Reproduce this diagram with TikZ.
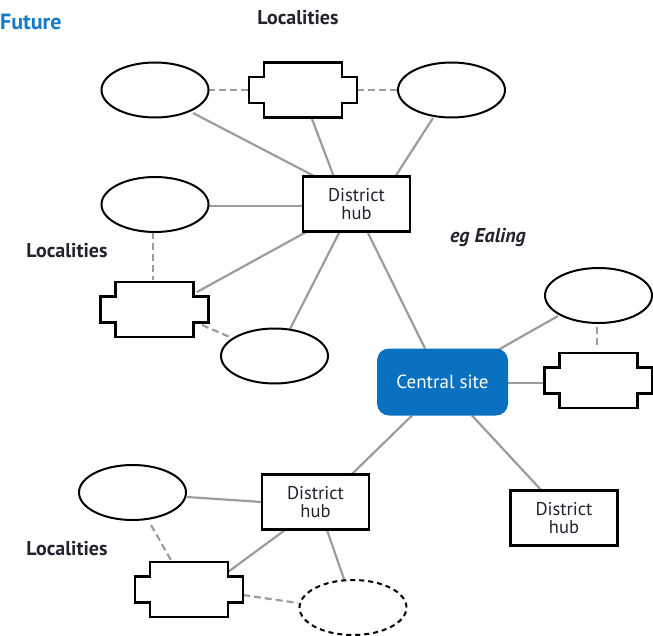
\documentclass[tikz,border=0pt]{standalone}
\usepackage{fontspec}
\setmainfont{PT Sans}
\usetikzlibrary{calc,shapes.geometric,backgrounds}

\definecolor{hubblue}{HTML}{0A70C0}
\definecolor{titleblue}{HTML}{1479C8}
\definecolor{linkgray}{HTML}{9C9C9C}
\definecolor{labeldark}{HTML}{23232E}

\tikzset{
  loc/.style={ellipse, draw=black, line width=2pt, fill=white,
              minimum width=107pt, minimum height=55pt, inner sep=0pt},
  locdash/.style={loc, dash pattern=on 5pt off 4pt},
  notch/.style={rectangle, draw=none, minimum width=108pt, minimum height=55pt, inner sep=0pt},
  notchline/.style={draw=black, line width=2.7pt, fill=white, line join=miter},
  hub/.style={rectangle, draw=black, line width=2.8pt, fill=white,
              minimum width=107pt, minimum height=55pt, inner sep=0pt,
              align=center, text=labeldark, font=\fontsize{18.5pt}{18pt}\selectfont},
  centre/.style={rectangle, rounded corners=12pt, fill=hubblue, text=white,
                 minimum width=131pt, minimum height=67pt, inner sep=0pt,
                 font=\fontsize{19pt}{19pt}\selectfont},
  link/.style={draw=linkgray, line width=2.2pt},
  weak/.style={draw=linkgray, line width=2.2pt, dash pattern=on 7pt off 4pt},
  caption/.style={inner sep=0pt, text=labeldark, font=\bfseries\fontsize{20pt}{20pt}\selectfont}
}

% notched locality box: an invisible node plus its stepped outline
\newcommand\notchbox[2]{%
  \node[notch] (#1) at #2 {};
  \draw[notchline, shift={(#1.center)}]
    (-39,-27.5) -- (39,-27.5) -- (39,-13) -- (54,-13) -- (54,13) -- (39,13)
    -- (39,27.5) -- (-39,27.5) -- (-39,13) -- (-54,13) -- (-54,-13) -- (-39,-13) -- cycle;
}

\begin{document}
\begin{tikzpicture}[x=1pt, y=-1pt]
\useasboundingbox (0,0) rectangle (653,636);

% captions
\node[inner sep=0pt, anchor=west, text=titleblue, font=\bfseries\fontsize{22pt}{22pt}\selectfont] (future) at (0,22) {Future};
\node[caption] (loctop) at (298,18) {Localities};
\node[caption] (locleft) at (67,251) {Localities};
\node[caption] (locbot) at (67,549) {Localities};
\node[caption, font=\bfseries\itshape\fontsize{20pt}{20pt}\selectfont] (ealing) at (488,238) {eg Ealing};

% upper district
\node[loc] (ellA) at (155,90) {};
\notchbox{nTop}{(303,90)}
\node[loc] (ellTR) at (451.5,90) {};
\node[hub] (hubA) at (356.5,204) {District\\hub};
\node[loc] (ellL) at (155,204.5) {};
\notchbox{nLeft}{(154.5,309.5)}
\node[loc] (ellLow) at (274.5,356) {};

% central site and its right-hand localities
\node[centre] (central) at (442.5,382) {Central site};
\node[loc] (ellR) at (598.5,295.5) {};
\notchbox{nRight}{(598.5,380.5)}
\node[hub] (hubC) at (564,518) {District\\hub};

% lower district
\node[hub] (hubB) at (315.5,502) {District\\hub};
\node[loc] (ellBL) at (132.5,492.5) {};
\notchbox{nBot}{(189,589.5)}
\node[locdash] (ellD) at (353,607.5) {};

\begin{scope}[on background layer]
  % solid links
  \draw[link] ($(ellA)+(38,23)$) -- ($(hubA)+(-40.5,-27)$);
  \draw[link] ($(nTop)+(9,29)$) -- ($(hubA)+(-22.5,-27)$);
  \draw[link] ($(ellTR)+(-18.5,28)$) -- ($(hubA)+(38.5,-27)$);
  \draw[link] ($(ellL)+(53,1.5)$) -- ($(hubA)+(-53.5,2)$);
  \draw[link] ($(hubA)+(-48.5,27)$) -- ($(nLeft)+(42.5,-17.5)$);
  \draw[link] ($(hubA)+(-16.5,27)$) -- ($(ellLow)+(15.5,-27)$);
  \draw[link] ($(hubA)+(10.5,27)$) -- ($(central)+(-17.5,-33.5)$);
  \draw[link] ($(central)+(55.5,-32)$) -- ($(ellR)+(-40.5,20.5)$);
  \draw[link] ($(central)+(65.5,1)$) -- ($(nRight)+(-54.5,2.5)$);
  \draw[link] ($(central)+(29.5,33.5)$) -- ($(hubC)+(-22,-27)$);
  \draw[link] ($(central)+(-30.5,33.5)$) -- ($(hubB)+(36.5,-28)$);
  \draw[link] ($(ellBL)+(54.5,4.5)$) -- ($(hubB)+(-53.5,0)$);
  \draw[link] ($(hubB)+(-30.5,28)$) -- ($(nBot)+(39,-17.5)$);
  \draw[link] ($(hubB)+(11.5,28)$) -- ($(ellD)+(-8,-25.5)$);
  % dashed links between neighbouring localities
  \draw[weak] ($(ellA)+(53,0)$) -- ($(nTop)+(-54,0)$);
  \draw[weak] ($(nTop)+(54,0)$) -- ($(ellTR)+(-54.5,0)$);
  \draw[weak] ($(ellL)+(-2,27.5)$) -- ($(nLeft)+(-1.5,-29.5)$);
  \draw[weak] ($(nLeft)+(47.5,15.5)$) -- ($(ellLow)+(-42.5,-18)$);
  \draw[weak] ($(ellR)+(-1.5,31.5)$) -- ($(nRight)+(-1.5,-32.5)$);
  \draw[weak] ($(ellBL)+(18.5,32.5)$) -- ($(nBot)+(-17,-27.5)$);
  \draw[weak] ($(nBot)+(54,5.5)$) -- ($(ellD)+(-55,-4.5)$);
\end{scope}
\end{tikzpicture}
\end{document}
